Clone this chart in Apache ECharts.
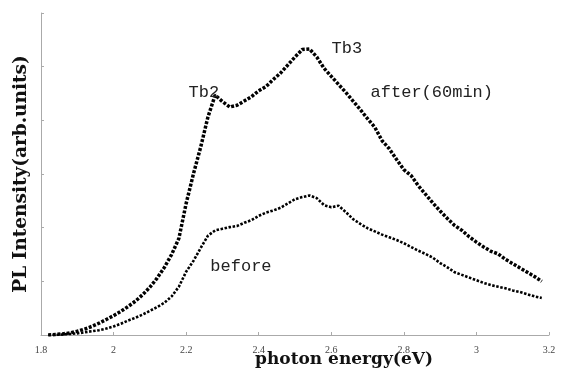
<!DOCTYPE html>
<html>
<head>
<meta charset="utf-8">
<script src="https://cdn.jsdelivr.net/npm/echarts@6/dist/echarts.min.js"></script>
<style>
  html, body { margin: 0; padding: 0; background: #fff; }
  #chart { width: 561px; height: 372px; }
</style>
</head>
<body>
<div id="chart"></div>
<script>
// photon energy (eV), step 0.02
const energy = [
  1.82, 1.84, 1.86, 1.88, 1.90, 1.92, 1.94, 1.96, 1.98, 2.00,
  2.02, 2.04, 2.06, 2.08, 2.10, 2.12, 2.14, 2.16, 2.18, 2.20,
  2.22, 2.24, 2.26, 2.28, 2.30, 2.32, 2.34, 2.36, 2.38, 2.40,
  2.42, 2.44, 2.46, 2.48, 2.50, 2.52, 2.54, 2.56, 2.58, 2.60,
  2.62, 2.64, 2.66, 2.68, 2.70, 2.72, 2.74, 2.76, 2.78, 2.80,
  2.82, 2.84, 2.86, 2.88, 2.90, 2.92, 2.94, 2.96, 2.98, 3.00,
  3.02, 3.04, 3.06, 3.08, 3.10, 3.12, 3.14, 3.16, 3.18
];
// after(60min)
const afterVals = [
  0.00, 0.01, 0.02, 0.04, 0.07, 0.11, 0.16, 0.22, 0.29, 0.36,
  0.44, 0.53, 0.63, 0.75, 0.89, 1.06, 1.26, 1.50, 1.80, 2.45,
  3.00, 3.50, 4.06, 4.47, 4.35, 4.25, 4.28, 4.36, 4.44, 4.55,
  4.63, 4.76, 4.88, 5.03, 5.18, 5.32, 5.33, 5.18, 4.97, 4.82,
  4.67, 4.52, 4.36, 4.20, 4.03, 3.87, 3.62, 3.47, 3.27, 3.08,
  2.97, 2.78, 2.62, 2.46, 2.31, 2.17, 2.04, 1.95, 1.83, 1.73,
  1.64, 1.56, 1.51, 1.41, 1.33, 1.25, 1.17, 1.09, 1.00
];
// before
const beforeVals = [
  0.00, 0.00, 0.01, 0.02, 0.03, 0.05, 0.07, 0.09, 0.12, 0.16,
  0.21, 0.27, 0.32, 0.38, 0.45, 0.52, 0.60, 0.72, 0.90, 1.18,
  1.38, 1.62, 1.85, 1.95, 1.98, 2.01, 2.03, 2.09, 2.14, 2.22,
  2.28, 2.32, 2.37, 2.45, 2.53, 2.57, 2.60, 2.55, 2.42, 2.38,
  2.41, 2.29, 2.16, 2.07, 1.99, 1.93, 1.87, 1.82, 1.77, 1.71,
  1.64, 1.57, 1.51, 1.44, 1.34, 1.26, 1.17, 1.12, 1.07, 1.02,
  0.97, 0.93, 0.90, 0.87, 0.83, 0.80, 0.76, 0.72, 0.69
];
// annotation texts and where they sit (data coords)
const notes = [
  { text: "Tb2", coord: [2.249, 4.51] },
  { text: "Tb3", coord: [2.643, 5.33] },
  { text: "after(60min)", coord: [2.877, 4.51] },
  { text: "before", coord: [2.351, 1.27] }
];

const pairs = (xs, ys) => xs.map((x, i) => [x, ys[i]]);

const chart = echarts.init(document.getElementById("chart"));
chart.setOption({
  animation: false,
  grid: { left: 41, right: 12, top: 13, bottom: 37, outerBoundsMode: "none", containLabel: false },
  xAxis: {
    type: "value",
    min: 1.8,
    max: 3.2,
    interval: 0.2,
    name: "photon energy(eV)",
    nameLocation: "middle",
    nameGap: 16,
    nameMoveOverlap: false,
    nameTextStyle: {
      fontFamily: "DejaVu Serif",
      fontWeight: "bold",
      fontSize: 17,
      color: "#111",
      padding: [0, 0, 0, 98]
    },
    axisLine: { lineStyle: { color: "#aaa", width: 1 } },
    axisTick: { inside: true, length: 3, lineStyle: { color: "#aaa" } },
    axisLabel: {
      fontFamily: "Liberation Serif",
      fontSize: 10,
      color: "#444",
      margin: 10,
      formatter: (v) => String(Math.round(v * 10) / 10)
    },
    splitLine: { show: false }
  },
  yAxis: {
    type: "value",
    min: 0,
    max: 6,
    interval: 1,
    name: "PL Intensity(arb.units)",
    nameLocation: "middle",
    nameGap: 10,
    nameMoveOverlap: false,
    nameTextStyle: {
      fontFamily: "DejaVu Serif",
      fontWeight: "bold",
      fontSize: 18.5,
      color: "#111"
    },
    axisLine: { show: true, lineStyle: { color: "#aaa", width: 1 } },
    axisTick: { show: true, inside: true, length: 3, lineStyle: { color: "#aaa" } },
    axisLabel: { show: false },
    splitLine: { show: false }
  },
  series: [
    {
      name: "after(60min)",
      type: "line",
      data: pairs(energy, afterVals),
      showSymbol: false,
      lineStyle: { color: "#000", width: 3.5, type: [3, 1.6] },
      markPoint: {
        symbol: "circle",
        symbolSize: 0,
        label: {
          show: true,
          position: "inside",
          fontFamily: "Liberation Mono",
          fontSize: 17,
          color: "#222",
          formatter: (p) => p.name
        },
        data: notes.map((n) => ({ name: n.text, coord: n.coord }))
      }
    },
    {
      name: "before",
      type: "line",
      data: pairs(energy, beforeVals),
      showSymbol: false,
      lineStyle: { color: "#000", width: 2.6, type: [2.5, 1.6] }
    }
  ]
});
</script>
</body>
</html>
